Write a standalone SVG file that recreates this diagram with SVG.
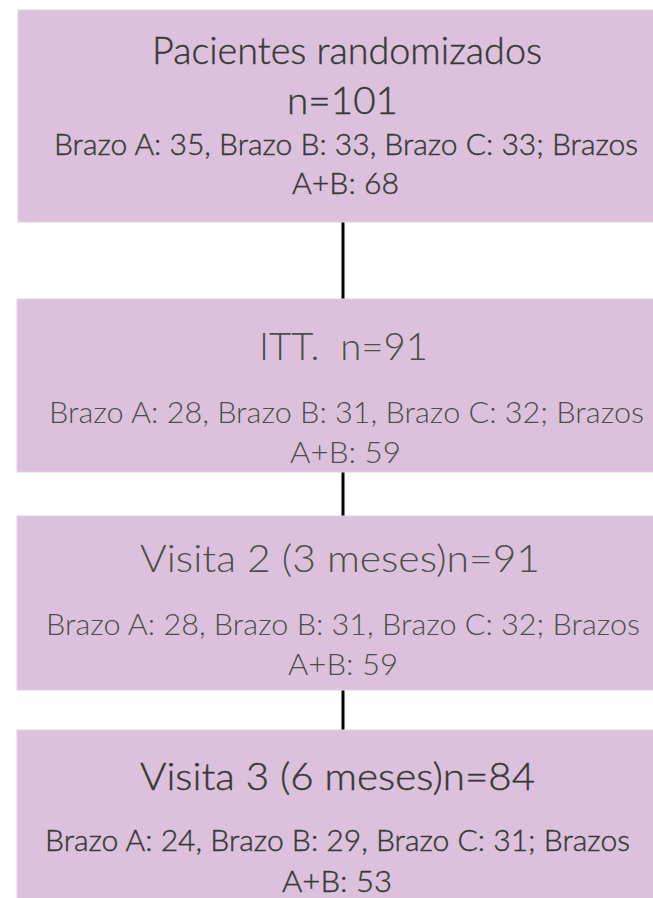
<svg xmlns="http://www.w3.org/2000/svg" width="653" height="898" viewBox="0 0 653 898">
<style>
.box{fill:#dcc1dc;stroke:#e4cfe4;stroke-width:1}
.t{font-family:Lato,"Liberation Sans",sans-serif;font-weight:300;fill:#383838;stroke:#383838;stroke-width:0.4;white-space:pre}
.big{font-size:38px}
.small{font-size:30px}
.light{fill:#4d4d4d;stroke:none}
.conn{stroke:#000;stroke-width:3;fill:none}
</style>
<rect width="653" height="898" fill="#ffffff"/>
<g id="connectors">
<line class="conn" x1="343" y1="222" x2="343" y2="299"/>
<line class="conn" x1="343" y1="472" x2="343" y2="516"/>
<line class="conn" x1="343" y1="690" x2="343" y2="730"/>
</g>
<g id="node1">
<rect class="box" x="18" y="10" width="640" height="212"/>
<text class="t big" x="152" y="64" textLength="390" lengthAdjust="spacingAndGlyphs">Pacientes randomizados</text>
<text class="t big" x="287" y="114" textLength="111" lengthAdjust="spacingAndGlyphs">n=101</text>
<text class="t small" x="54" y="155" textLength="584" lengthAdjust="spacingAndGlyphs">Brazo A: 35, Brazo B: 33, Brazo C: 33; Brazos</text>
<text class="t small" x="292" y="194" textLength="107" lengthAdjust="spacingAndGlyphs">A+B: 68</text>
</g>
<g id="node2">
<rect class="box" x="17" y="299" width="640" height="173"/>
<text class="t big light" x="259" y="360" textLength="169" lengthAdjust="spacingAndGlyphs">ITT.  n=91</text>
<text class="t small light" x="49" y="423" textLength="595" lengthAdjust="spacingAndGlyphs">Brazo A: 28, Brazo B: 31, Brazo C: 32; Brazos</text>
<text class="t small light" x="290" y="463" textLength="111" lengthAdjust="spacingAndGlyphs">A+B: 59</text>
</g>
<g id="node3">
<rect class="box" x="17" y="516" width="640" height="174"/>
<text class="t big light" x="140" y="572" textLength="400" lengthAdjust="spacingAndGlyphs">Visita 2 (3 meses)n=91</text>
<text class="t small light" x="46" y="635" textLength="594" lengthAdjust="spacingAndGlyphs">Brazo A: 28, Brazo B: 31, Brazo C: 32; Brazos</text>
<text class="t small light" x="288" y="675" textLength="110" lengthAdjust="spacingAndGlyphs">A+B: 59</text>
</g>
<g id="node4">
<rect class="box" x="17" y="730" width="640" height="175"/>
<text class="t big" x="140" y="790" textLength="395" lengthAdjust="spacingAndGlyphs">Visita 3 (6 meses)n=84</text>
<text class="t small" x="45" y="851" textLength="585" lengthAdjust="spacingAndGlyphs">Brazo A: 24, Brazo B: 29, Brazo C: 31; Brazos</text>
<text class="t small" x="282" y="892" textLength="110" lengthAdjust="spacingAndGlyphs">A+B: 53</text>
</g>
</svg>
